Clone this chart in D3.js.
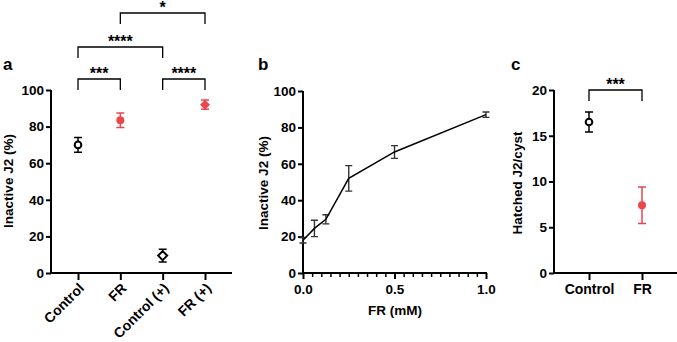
<!DOCTYPE html>
<html><head><meta charset="utf-8">
<script src="https://cdn.jsdelivr.net/npm/d3@7"></script>
<style>
body{margin:0;background:#fff;}
text{font-family:"Liberation Sans",Arial,sans-serif;font-weight:bold;fill:#000;}
</style></head>
<body><svg id="c" width="677" height="342"></svg>
<script>
// Panel a data
const aCategories = ["Control", "FR", "Control (+)", "FR (+)"];
const aMeans = [70, 83.5, 9.5, 92];
const aErr = [4, 4, 3.5, 2.5];
const aShapes = ["circle", "circle", "diamond", "diamond"];
const aFilled = [false, true, false, true];
const aYTicks = [0, 20, 40, 60, 80, 100];
const aSig = [
  {from: "Control", to: "FR", label: "***", level: 0},
  {from: "Control (+)", to: "FR (+)", label: "****", level: 0},
  {from: "Control", to: "Control (+)", label: "****", level: 1},
  {from: "FR", to: "FR (+)", label: "*", level: 2}
];
// Panel b data
const bDose = [0, 0.0625, 0.125, 0.25, 0.5, 1.0];
const bMeans = [18, 24.5, 29.5, 52, 66.5, 87];
const bErr = [1.5, 4.5, 2.5, 7, 3.5, 1.5];
const bYTicks = [0, 20, 40, 60, 80, 100];
const bXTicks = [0, 0.5, 1.0];
// Panel c data
const cCategories = ["Control", "FR"];
const cMeans = [16.5, 7.4];
const cErr = [1.1, 2.0];
const cFilled = [false, true];
const cYTicks = [0, 5, 10, 15, 20];

const RED = "#e8474c";
const FS = "13.5px";
const svg = d3.select("#c");

function yAxis(g, y, x0, ticks) {
  const ax = g.append("g").attr("transform", `translate(${x0},0)`)
    .call(d3.axisLeft(y).tickValues(ticks).tickSize(5).tickPadding(2).tickFormat(d3.format("d")));
  ax.select(".domain").attr("stroke-width", 2).attr("d", `M0,${y.range()[0]+1}V${y.range()[1]}`);
  ax.selectAll(".tick line").attr("stroke-width", 2);
  ax.selectAll(".tick text").style("font-size", FS);
  return ax;
}
function marker(g, cx, cy, shape, filled, color) {
  if (shape === "circle") {
    g.append("circle").attr("cx", cx).attr("cy", cy).attr("r", filled ? 4 : 3.3)
      .attr("fill", filled ? color : "#fff").attr("stroke", color).attr("stroke-width", filled ? 0 : 2);
  } else {
    const s = filled ? 5 : 4.5;
    g.append("path").attr("d", `M${cx},${cy-s}L${cx+s},${cy}L${cx},${cy+s}L${cx-s},${cy}Z`)
      .attr("fill", filled ? color : "#fff").attr("stroke", color).attr("stroke-width", filled ? 0 : 2);
  }
}
function errbar(g, cx, y, m, e, color, cap, sw) {
  g.append("path").attr("d", `M${cx},${y(m-e)}V${y(m+e)}M${cx-cap},${y(m-e)}H${cx+cap}M${cx-cap},${y(m+e)}H${cx+cap}`)
    .attr("stroke", color).attr("stroke-width", sw).attr("fill", "none");
}
function bracket(g, x1, x2, top, leg, label) {
  g.append("path").attr("d", `M${x1},${top+leg}V${top}H${x2}V${top+leg}`)
    .attr("stroke", "#000").attr("stroke-width", 1.3).attr("fill", "none");
  g.append("text").attr("x", (x1+x2)/2).attr("y", top).attr("text-anchor", "middle")
    .style("font-size", "16px").text(label);
}

// ---------- Panel a ----------
{
  const g = svg.append("g");
  const y = d3.scaleLinear().domain([0, 100]).range([273, 90]);
  const x = d3.scalePoint().domain(aCategories).range([78, 205]);
  yAxis(g, y, 51, aYTicks);
  const xa = g.append("g").attr("transform", `translate(0,273)`)
    .call(d3.axisBottom(x).tickSize(7).tickFormat(""));
  xa.select(".domain").attr("stroke-width", 2).attr("d", "M50,0H232");
  xa.selectAll(".tick line").attr("stroke-width", 2);
  aCategories.forEach(c => {
    g.append("text").attr("text-anchor", "end")
      .attr("transform", `translate(${x(c)+7},${289}) rotate(-45)`)
      .style("font-size", "14px").text(c);
  });
  aCategories.forEach((c, i) => {
    const col = aFilled[i] ? RED : "#000";
    errbar(g, x(c), y, aMeans[i], aErr[i], col, 4, 1.5);
    marker(g, x(c), y(aMeans[i]), aShapes[i], aFilled[i], col);
  });
  const tops = [79, 47, 13];
  aSig.forEach(s => bracket(g, x(s.from), x(s.to), tops[s.level], 11, s.label));
  g.append("text").attr("x", 13).attr("y", 181).attr("text-anchor", "middle")
    .attr("transform", "rotate(-90,13,181)").style("font-size", FS).text("Inactive J2 (%)");
  g.append("text").attr("x", 3).attr("y", 70).style("font-size", "17px").text("a");
}

// ---------- Panel b ----------
{
  const g = svg.append("g");
  const y = d3.scaleLinear().domain([0, 100]).range([273, 91]);
  const x = d3.scaleLinear().domain([0, 1]).range([303, 486]);
  yAxis(g, y, 303, bYTicks);
  const minor = d3.range(0, 21).map(i => i * 0.05).filter(v => bXTicks.every(t => Math.abs(t - v) > 1e-6));
  const xa = g.append("g").attr("transform", "translate(0,273)");
  xa.append("g").call(d3.axisBottom(x).tickValues(minor).tickSize(4).tickFormat(""))
    .call(a => { a.select(".domain").remove(); a.selectAll(".tick line").attr("stroke-width", 1.5); });
  const mj = xa.append("g").call(d3.axisBottom(x).tickValues(bXTicks).tickSize(6).tickPadding(5).tickFormat(d3.format(".1f")));
  mj.select(".domain").attr("stroke-width", 2).attr("d", "M302,0H487");
  mj.selectAll(".tick line").attr("stroke-width", 2);
  mj.selectAll(".tick text").style("font-size", FS);
  bDose.forEach((d, i) => errbar(g, x(d), y, bMeans[i], bErr[i], "#333", 3.5, 1.4));
  const line = d3.line().x(d => x(d)).y((d, i) => y(bMeans[i]));
  g.append("path").attr("d", line(bDose)).attr("fill", "none").attr("stroke", "#000").attr("stroke-width", 1.5);
  g.append("text").attr("x", 395).attr("y", 315).attr("text-anchor", "middle").style("font-size", FS).text("FR (mM)");
  g.append("text").attr("x", 268).attr("y", 183).attr("text-anchor", "middle")
    .attr("transform", "rotate(-90,268,183)").style("font-size", FS).text("Inactive J2 (%)");
  g.append("text").attr("x", 258).attr("y", 70).style("font-size", "17px").text("b");
}

// ---------- Panel c ----------
{
  const g = svg.append("g");
  const y = d3.scaleLinear().domain([0, 20]).range([273, 90]);
  const x = d3.scalePoint().domain(cCategories).range([589, 642]);
  yAxis(g, y, 554, cYTicks);
  const xa = g.append("g").attr("transform", "translate(0,273)")
    .call(d3.axisBottom(x).tickSize(7).tickPadding(4));
  xa.select(".domain").attr("stroke-width", 2).attr("d", "M553,0H677");
  xa.selectAll(".tick line").attr("stroke-width", 2);
  xa.selectAll(".tick text").style("font-size", "14px");
  cCategories.forEach((c, i) => {
    const col = cFilled[i] ? RED : "#000";
    errbar(g, x(c), y, cMeans[i], cErr[i], col, 4, 1.5);
    marker(g, x(c), y(cMeans[i]), "circle", cFilled[i], col);
  });
  bracket(g, x("Control"), x("FR"), 90, 11, "***");
  g.append("text").attr("x", 522).attr("y", 183).attr("text-anchor", "middle")
    .attr("transform", "rotate(-90,522,183)").style("font-size", FS).text("Hatched J2/cyst");
  g.append("text").attr("x", 511).attr("y", 70).style("font-size", "17px").text("c");
}
</script></body></html>
